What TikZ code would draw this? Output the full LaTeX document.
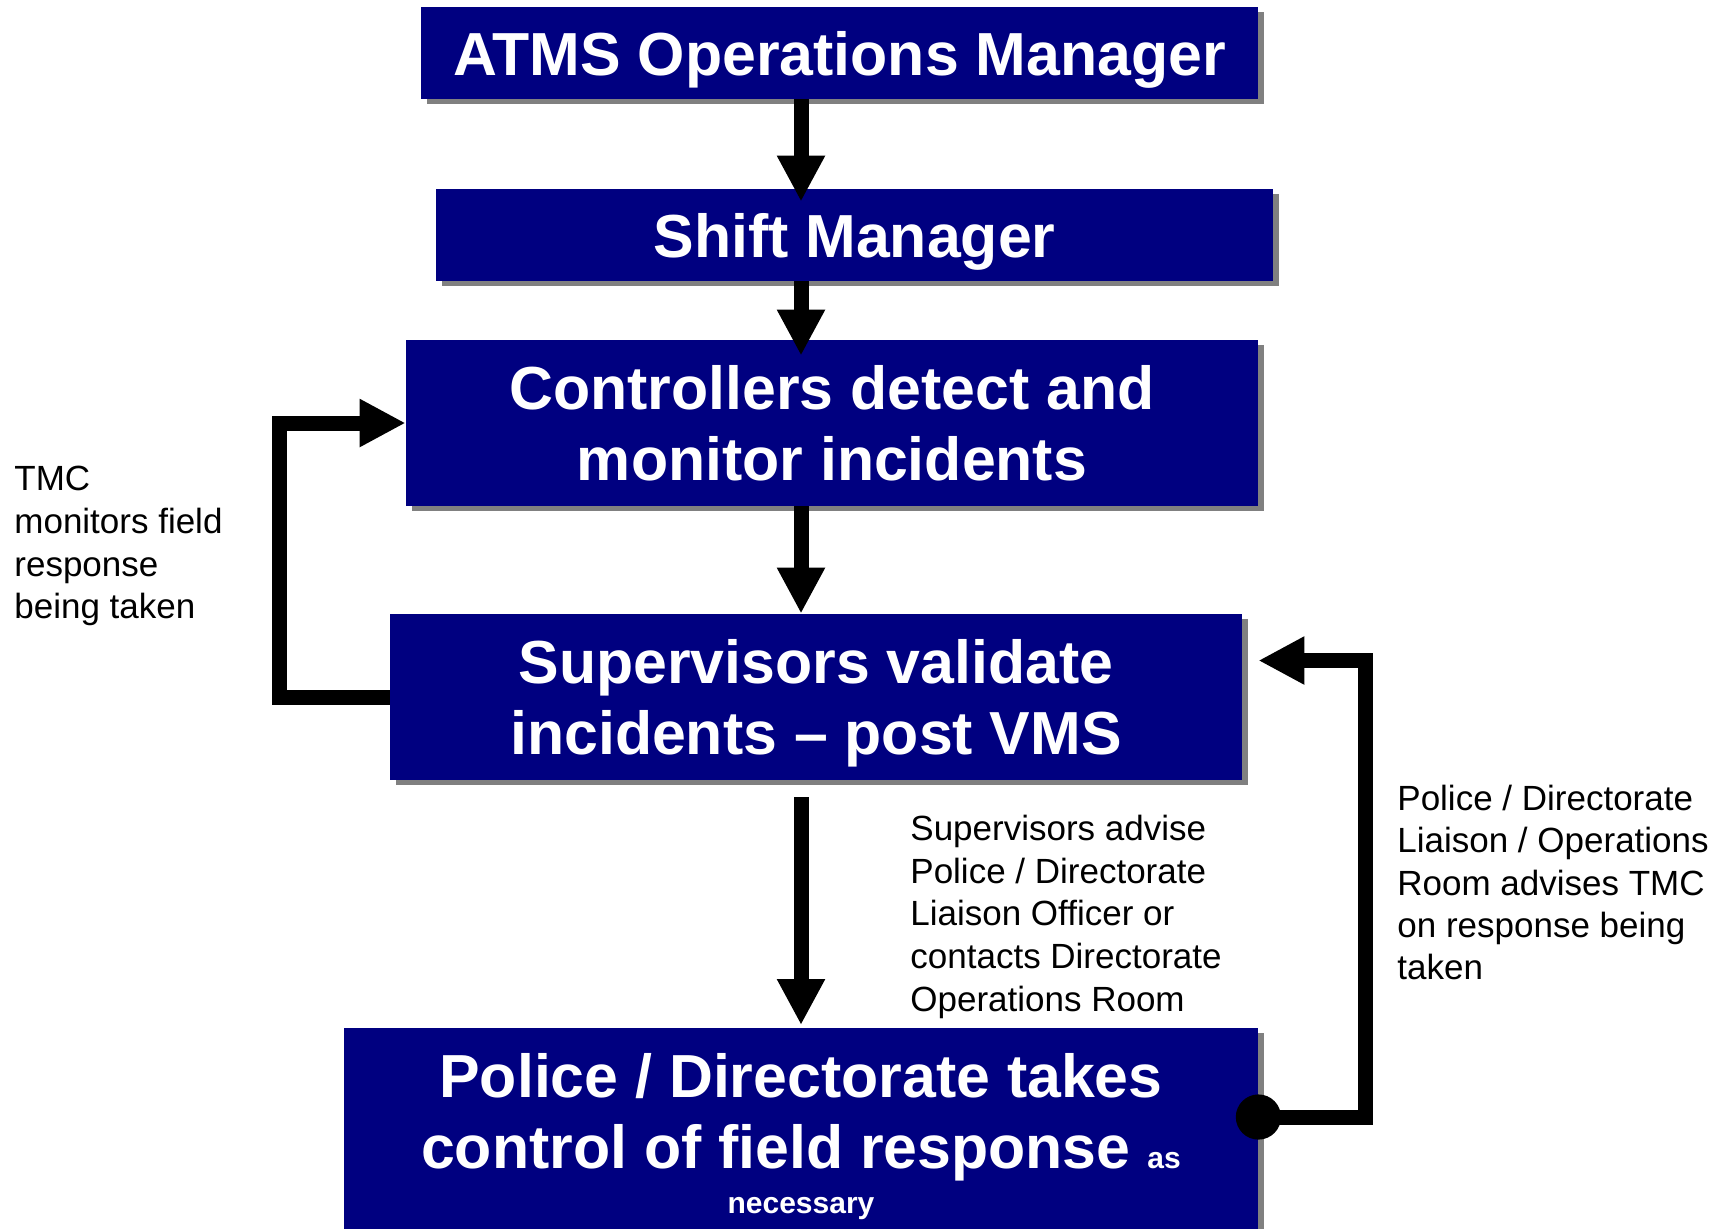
\documentclass[tikz,border=0pt]{standalone}
\usepackage{fontspec}
\setmainfont{Liberation Sans}
\usetikzlibrary{positioning,calc,arrows.meta,shadows}
\definecolor{boxblue}{RGB}{0,0,128}
\newcommand\smallbf{\fontsize{15}{18}\selectfont}
\tikzset{>=Triangle}

\begin{document}
\begin{tikzpicture}[x=0.5pt,y=-0.5pt,
  box/.style={fill=boxblue,text=white,font=\bfseries\fontsize{30.4}{35.5}\selectfont,align=center,inner sep=0pt,text depth=0pt,
    drop shadow={shadow xshift=2.75pt,shadow yshift=-2.5pt,fill=black!50,opacity=1}},
  note/.style={anchor=north west,inner sep=0pt,align=left,font=\fontsize{17.5}{21.3}\selectfont},
  flow/.style={line width=7.5pt,line join=miter,-{Triangle[length=23pt,width=22.5pt]}}]
\useasboundingbox (0,0) rectangle (1724,1228);
\coordinate (spine) at (801,0);
\node[box,minimum width=418.5pt,minimum height=46pt] (ops) at (839.5,53) {ATMS Operations Manager};
\node[box,minimum width=418.5pt,minimum height=46pt] (shiftmgr) at (854.5,235) {Shift Manager};
\node[box,minimum width=426pt,minimum height=83pt] (ctrl) at (832,423) {Controllers detect and\\monitor incidents};
\node[box,minimum width=426pt,minimum height=83pt] (sup) at (816,697) {Supervisors validate\\incidents \textendash{} post VMS};
\node[box,anchor=north,minimum width=457pt,inner ysep=12.5pt] (police) at (801,1028) {Police / Directorate takes\\control of field response {\smallbf as}\\[-13pt]{\smallbf necessary}};
\draw[flow] (ops.south -| spine) -- ($(shiftmgr.north -| spine)+(0,13)$);
\draw[flow] (shiftmgr.south -| spine) -- ($(ctrl.north -| spine)+(0,16)$);
\draw[flow] (ctrl.south -| spine) -- (sup.north -| spine);
\draw[flow] ($(sup.south -| spine)+(0,17)$) -- ($(police.north -| spine)+(0,-3)$);
\draw[flow] (sup.west) -- ++(-110,0) |- (ctrl.west);
\coordinate (dot) at ($(police.north east)+(0,89)$);
\draw[flow] (dot) -- ++(107.5,0) |- ($(sup.east)+(16,-36.5)$);
\fill (dot) circle[radius=11.3pt];
\node[note] (tmcnote) at (14,466) {TMC\\monitors field\\response\\being taken};
\node[note] (advise) at (910,815) {Supervisors advise\\Police / Directorate\\Liaison Officer or\\contacts Directorate\\Operations Room};
\node[note,font=\fontsize{17.5}{21.1}\selectfont] (liaison) at (1397,785) {Police / Directorate\\Liaison / Operations\\Room advises TMC\\on response being\\taken};
\end{tikzpicture}
\end{document}
